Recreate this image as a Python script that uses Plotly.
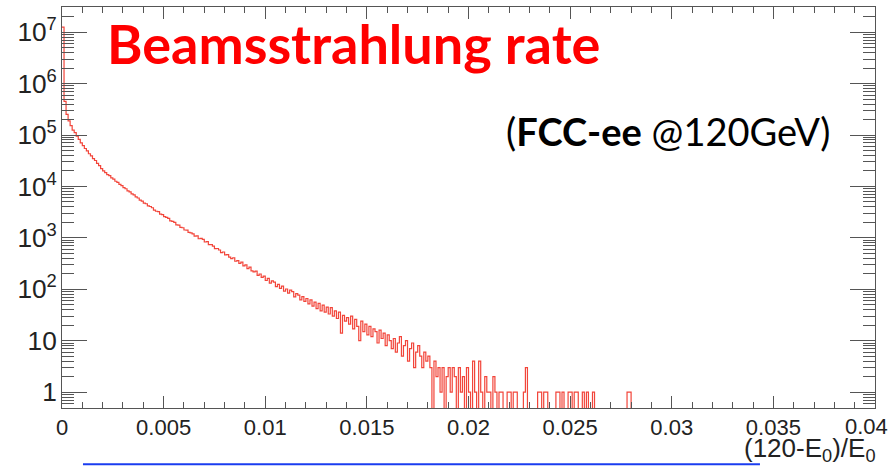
import plotly.graph_objects as go

# ---------------- data ----------------
bin_width = 0.0001          # histogram bin width in (120-E0)/E0
counts = [
    12600000, 450000, 251000, 189000, 152000, 125000, 111000, 94800, 81900, 70300,
    62100, 54600, 49300, 43200, 39200, 34800, 31900, 28000, 25300, 22200,
    20100, 18600, 17000, 16200, 14700, 13900, 12600, 12000, 11000, 10400,
    9450, 9010, 8200, 7850, 7150, 6830, 6250, 5950, 5420, 5190,
    4730, 4600, 4180, 4070, 3850, 3460, 3290, 3230, 2900, 2840,
    2580, 2510, 2390, 2140, 2090, 1990, 1790, 1760, 1600, 1570,
    1420, 1410, 1280, 1250, 1190, 1080, 1090, 960, 975, 930,
    830, 840, 735, 740, 690, 615, 620, 580, 515, 530,
    465, 470, 420, 395, 410, 350, 360, 318, 336, 285,
    298, 252, 270, 228, 218, 226, 186, 198, 170, 180,
    148, 162, 131, 146, 138, 112, 124, 104, 115, 92,
    101, 84, 96, 90, 71, 82, 77, 62, 72, 58,
    66, 52, 62, 47, 56, 42, 53, 38, 49, 36,
    45, 33, 44, 30, 38, 27, 36, 14, 31, 24,
    28, 21, 30, 17, 26, 19, 10, 24, 15, 21,
    13, 19, 12, 17, 15, 9, 16, 11, 14, 8,
    13, 10, 7, 11, 6, 9, 12, 5, 8, 10,
    4, 7, 9, 3, 6, 8, 5, 3, 6, 4,
    5, 3, 0, 4, 2, 3, 1, 3, 0, 2,
    3, 1, 3, 2, 0, 3, 1, 2, 0, 3,
    1, 0, 4, 1, 0, 4, 1, 0, 2, 1,
    1, 0, 2, 1, 0, 1, 1, 0, 0, 1,
    1, 0, 1, 1, 0, 0, 0, 1, 3, 0,
    0, 0, 0, 0, 1, 1, 0, 1, 1, 0,
    0, 0, 0, 1, 1, 0, 1, 0, 0, 1,
    1, 0, 1, 1, 0, 0, 1, 0, 1, 0,
    0, 1, 0, 0, 0, 0, 0, 0, 0, 0,
    0, 0, 0, 0, 0, 0, 0, 0, 1, 1,
    0, 0,
]
x_range = [0, 0.04]
x_tick_vals = [0, 0.005, 0.01, 0.015, 0.02, 0.025, 0.03, 0.035, 0.04]
x_tick_text = ["0", "0.005", "0.01", "0.015", "0.02", "0.025", "0.03", "0.035", ""]
last_x_label = "0.04"
title_text = "Beamsstrahlung rate"
subtitle_text = "(<b>FCC-ee</b> @120GeV)"
x_title_text = "(120-E<sub>0</sub>)/E<sub>0</sub>"

# ---------------- figure ----------------
edges = [i * bin_width for i in range(len(counts) + 1)]
# empty bins are drawn down to (below) the axis, like a ROOT step histogram
y_plot = [c if c > 0 else 1e-3 for c in counts]
y_plot = y_plot + [y_plot[-1]]

fig = go.Figure()
fig.add_trace(go.Scatter(
    x=edges, y=y_plot, mode="lines", line_shape="hv",
    line=dict(color="#f2453a", width=1.2), showlegend=False,
    hoverinfo="skip",
))

axis_col = "#555555"
tick_font = dict(family="Liberation Sans, Arial, sans-serif", size=22, color="#222222")

fig.update_xaxes(
    range=x_range, tickvals=x_tick_vals, ticktext=x_tick_text,
    ticks="inside", ticklen=12, tickcolor=axis_col, tickwidth=1,
    minor=dict(ticks="inside", ticklen=6, dtick=0.001, tickcolor=axis_col, showgrid=False),
    showline=True, linecolor=axis_col, linewidth=1, mirror="ticks",
    showgrid=False, zeroline=False, tickfont=tick_font,
)
fig.update_yaxes(
    type="log", range=[-0.31, 7.49], dtick=1, exponentformat="power",
    ticks="inside", ticklen=25, tickcolor=axis_col, tickwidth=1,
    minor=dict(ticks="inside", ticklen=12, dtick="D1", tickcolor=axis_col, showgrid=False),
    showline=True, linecolor=axis_col, linewidth=1, mirror="ticks",
    showgrid=False, zeroline=False,
    tickfont=dict(family="Liberation Sans, Arial, sans-serif", size=21, color="#222222"),
)

fig.add_annotation(
    text=title_text, xref="paper", yref="paper", x=0.0529, y=0.91,
    xanchor="left", yanchor="middle", showarrow=False,
    font=dict(family="Lato, Open Sans, sans-serif", size=54, color="#ff0000", weight="bold"),
)
fig.add_annotation(
    text=subtitle_text, xref="paper", yref="paper", x=0.947, y=0.69,
    xanchor="right", yanchor="middle", showarrow=False,
    font=dict(family="Lato, Open Sans, sans-serif", size=38, color="#000000"),
)
fig.add_annotation(
    text=x_title_text, xref="paper", yref="paper", x=1.004, y=-0.058,
    xanchor="right", yanchor="top", showarrow=False,
    font=dict(family="Liberation Sans, Arial, sans-serif", size=26, color="#222222"),
)
fig.add_annotation(
    text=last_x_label, xref="paper", yref="paper", x=0.990, y=-0.047,
    xanchor="center", yanchor="middle", showarrow=False,
    font=tick_font,
)
fig.add_shape(
    type="line", xref="paper", yref="paper", x0=0.0258, x1=0.8585,
    y0=-0.1405, y1=-0.1405, line=dict(color="#1a3cf0", width=2),
)

fig.update_layout(
    width=894, height=466, margin=dict(l=62, r=19, t=7, b=58),
    paper_bgcolor="white", plot_bgcolor="white",
)
fig.write_html("out.html")
